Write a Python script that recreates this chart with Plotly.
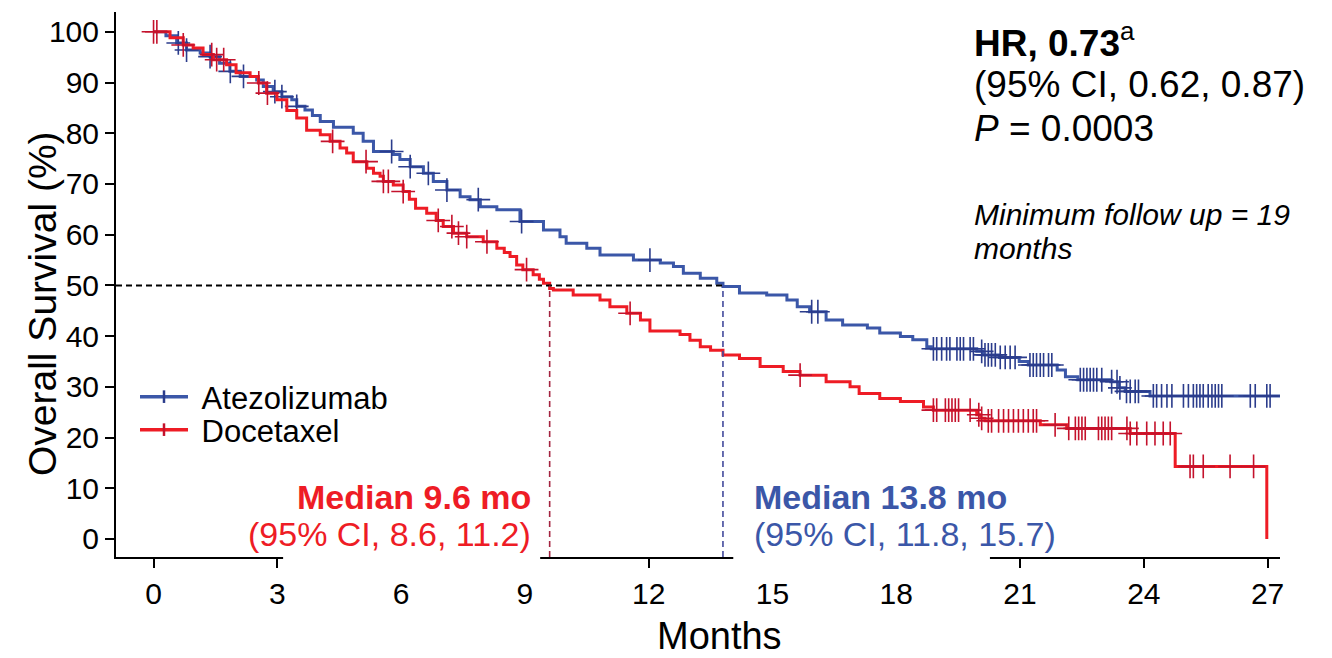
import numpy as np
import plotly.graph_objects as go

# ---------------- data ----------------
ATEZO_T = [0, 0.30, 0.56, 0.80, 1.13, 1.37, 1.60, 1.85, 2.10, 2.50, 2.66, 2.90, 3.11, 3.35,
           3.47, 3.67, 3.85, 4.04, 4.36, 4.84, 5.08, 5.33, 5.81, 5.97, 6.22, 6.54, 6.78,
           7.11, 7.43, 7.67, 7.92, 8.32, 8.88, 9.45, 9.85, 10.00, 10.50, 10.82, 11.63,
           12.28, 12.60, 12.84, 13.25, 13.65, 13.80, 14.20, 14.86, 15.35, 15.60, 15.90,
           16.30, 16.70, 17.30, 17.60, 18.10, 18.40, 18.74, 18.85, 19.95, 20.10, 20.50,
           20.98, 21.20, 21.90, 22.10, 22.40, 23.20, 23.40, 23.55, 24.15, 27.30]
ATEZO_S = [100, 99.2, 97.8, 96.4, 95.8, 95.1, 93.8, 92.2, 91.2, 90.5, 89.2, 88.2, 87.2, 86.6,
           85.3, 84.6, 83.5, 82.3, 81.2, 80.0, 78.4, 76.4, 75.8, 74.8, 73.4, 72.1, 70.5,
           68.8, 67.5, 66.9, 65.5, 64.9, 62.6, 60.9, 59.6, 58.3, 57.3, 56.0, 55.0,
           54.4, 53.7, 52.4, 51.4, 50.4, 49.8, 48.5, 48.1, 47.1, 45.8, 44.8,
           43.2, 42.2, 41.6, 40.6, 39.9, 39.3, 37.9, 37.5, 37.0, 36.3, 35.8,
           35.0, 34.3, 33.3, 32.0, 31.4, 31.0, 29.8, 29.1, 28.2, 28.2]

DOCE_T = [0, 0.40, 0.72, 0.96, 1.20, 1.45, 1.77, 2.00, 2.34, 2.54, 2.74, 2.99, 3.23, 3.47,
          3.71, 4.04, 4.28, 4.52, 4.68, 4.84, 5.17, 5.33, 5.49, 5.57, 5.81, 6.05, 6.20,
          6.35, 6.62, 6.85, 7.02, 7.27, 7.59, 7.99, 8.32, 8.50, 8.64, 8.80, 8.95, 9.20,
          9.35, 9.45, 9.60, 9.69, 10.17, 10.82, 11.06, 11.47, 11.80, 12.03, 12.76, 13.00,
          13.25, 13.50, 13.80, 14.20, 14.70, 15.26, 15.67, 16.30, 16.88, 17.10, 17.60,
          18.10, 18.66, 18.90, 19.95, 20.05, 20.15, 21.49, 22.13, 23.67, 24.76, 26.98]
DOCE_S = [100, 98.8, 97.4, 96.8, 95.5, 94.5, 93.5, 91.9, 91.2, 89.9, 87.9, 86.6, 84.5, 83.0,
          80.6, 79.7, 78.4, 77.1, 76.1, 74.4, 73.1, 72.1, 71.5, 70.5, 69.8, 68.5, 67.0,
          65.2, 64.2, 62.8, 61.6, 60.3, 59.6, 58.6, 57.3, 56.5, 55.7, 54.0, 53.1, 52.1,
          51.2, 50.4, 49.4, 49.1, 48.1, 47.1, 45.8, 44.5, 43.2, 41.0, 40.3, 39.2,
          37.9, 37.2, 36.3, 35.6, 34.0, 33.0, 32.3, 31.0, 30.0, 28.7, 27.7,
          27.1, 26.0, 25.4, 24.5, 23.8, 23.3, 22.5, 21.8, 20.8, 14.3, 0.0]

ATEZO_CENSOR = [0.60, 0.80, 1.37, 1.86, 2.18, 2.94, 3.11, 3.47, 5.77, 6.22, 6.66, 7.11, 7.87,
                8.92, 12.03, 15.95, 16.10,
                18.90, 18.98, 19.10, 19.22, 19.30, 19.47, 19.55, 19.63, 19.79, 19.87,
                20.07, 20.15, 20.23, 20.31, 20.40, 20.52, 20.64, 20.76, 20.88,
                21.24, 21.32, 21.40, 21.49, 21.57, 21.69, 21.77,
                22.46, 22.54, 22.62, 22.70, 22.78, 22.86, 22.98,
                23.22, 23.35, 23.42, 23.58, 23.67, 23.79, 23.87,
                24.23, 24.31, 24.43, 24.56, 24.68, 24.96,
                25.08, 25.20, 25.28, 25.36, 25.44, 25.56, 25.65, 25.73, 25.81, 25.89,
                26.58, 26.70, 26.98, 27.06]
DOCE_CENSOR = [0.00, 0.08, 0.72, 1.41, 1.53, 1.70, 2.55, 2.76, 4.34, 5.15, 5.57, 5.69, 6.05,
               6.90, 7.23, 7.39, 7.59, 8.08, 9.04, 11.55, 15.67,
               18.90, 18.98, 19.19, 19.27, 19.35, 19.43, 19.51, 19.79, 20.00, 20.07,
               20.23, 20.31, 20.48, 20.60, 20.72, 20.84, 20.96, 21.08, 21.20, 21.32, 21.40,
               21.85, 22.18, 22.34, 22.42, 22.50, 22.58, 22.90, 22.98, 23.06, 23.14, 23.22,
               23.59, 23.67, 23.83, 24.07, 24.27, 24.47, 24.64,
               25.12, 25.20, 25.44, 26.09, 26.66]

MEDIAN_ATEZO = 13.8
MEDIAN_DOCE = 9.6
X_TICKS = list(range(0, 28, 3))
Y_TICKS = list(range(0, 101, 10))
X_RANGE = [-0.91, 27.3]
Y_RANGE = [-3.55, 103.9]

BLUE = "#3b57a8"
BLUE_DARK = "#2b3c8c"
RED = "#ee1c25"
RED_DARK = "#c4122c"
FONT = "Arial, Liberation Sans, Helvetica, sans-serif"


def step_value(times, surv, t):
    idx = np.searchsorted(np.asarray(times), np.asarray(t), side="right") - 1
    return np.asarray(surv)[np.clip(idx, 0, len(surv) - 1)]


W, H, L, R, T_, B = 1332, 658, 116, 52, 12, 101


def px(x):
    return (x - L) / (W - L - R)


def py(y):
    return (H - B - y) / (H - T_ - B)


fig = go.Figure()
for name, T, S, C, col, dcol in [
    ("Atezolizumab", ATEZO_T, ATEZO_S, ATEZO_CENSOR, BLUE, BLUE_DARK),
    ("Docetaxel", DOCE_T, DOCE_S, DOCE_CENSOR, RED, RED_DARK),
]:
    fig.add_trace(go.Scatter(x=T, y=S, mode="lines", line=dict(color=col, width=3, shape="hv"),
                             showlegend=False, hoverinfo="skip"))
    fig.add_trace(go.Scatter(x=C, y=step_value(T, S, C), mode="markers",
                             marker=dict(symbol="cross-thin", size=17,
                                         line=dict(color=dcol, width=1.6)),
                             showlegend=False, hoverinfo="skip"))
for name, col, dcol, lg in [("Atezolizumab", BLUE, BLUE_DARK, "legend"),
                            ("Docetaxel", RED, RED_DARK, "legend2")]:
    fig.add_trace(go.Scatter(x=[None], y=[None], mode="lines+markers", name="&nbsp;" + name,
                             legend=lg, line=dict(color=col, width=3.5),
                             marker=dict(symbol="line-ns", size=9,
                                         line=dict(color=dcol, width=2.5))))

# reference lines at the medians
fig.add_shape(type="line", xref="x", yref="y", x0=X_RANGE[0], x1=MEDIAN_ATEZO, y0=50, y1=50,
              line=dict(color="black", width=2, dash="6px,4px"))
fig.add_shape(type="line", xref="x", yref="y", x0=MEDIAN_DOCE, x1=MEDIAN_DOCE, y0=Y_RANGE[0], y1=50,
              line=dict(color="#a3233f", width=1.6, dash="6px,4px"))
fig.add_shape(type="line", xref="x", yref="y", x0=MEDIAN_ATEZO, x1=MEDIAN_ATEZO, y0=Y_RANGE[0], y1=50,
              line=dict(color="#434a9c", width=1.6, dash="6px,4px"))
# gaps in the x axis line behind the median labels
for x0, x1 in [(3.14, 9.37), (14.05, 20.27)]:
    fig.add_shape(type="rect", xref="x", yref="paper", x0=x0, x1=x1, y0=-0.028, y1=0.009,
                  fillcolor="white", line=dict(width=0), layer="above")


def ann(text, x, y, size, color="black", xanchor="left", angle=0):
    fig.add_annotation(text=text, x=px(x), y=py(y), xref="paper", yref="paper",
                       xanchor=xanchor, yanchor="middle", showarrow=False, textangle=angle,
                       font=dict(size=size, color=color, family=FONT))


ann("<b>HR, 0.73</b><sup>a</sup>", 972, 40, 37)
ann("(95% CI, 0.62, 0.87)", 972, 84, 37)
ann("<i>P</i> = 0.0003", 972, 129, 37)
ann("<i>Minimum follow up = 19</i>", 972, 215, 30)
ann("<i>months</i>", 972, 248, 30)
ann(f"<b>Median {MEDIAN_DOCE} mo</b>", 533, 497, 34, RED, "right")
ann("(95% CI, 8.6, 11.2)", 533, 534, 34, RED, "right")
ann(f"<b>Median {MEDIAN_ATEZO} mo</b>", 752, 497, 34, BLUE, "left")
ann("(95% CI, 11.8, 15.7)", 752, 534, 34, BLUE, "left")
# axis titles
ann("Overall Survival (%)", 42, 304, 39, "black", "center", -90)
ann("Months", 719, 636, 38, "black", "center")

axis_common = dict(showgrid=False, zeroline=False, showline=True, linecolor="black", linewidth=2,
                   ticks="outside", ticklen=9, tickwidth=2, tickcolor="black",
                   tickfont=dict(size=30, color="black", family=FONT))
fig.update_xaxes(range=X_RANGE, tickvals=X_TICKS, **axis_common)
fig.update_yaxes(range=Y_RANGE, tickvals=Y_TICKS, **axis_common)
legend_common = dict(xanchor="left", yanchor="middle", bgcolor="rgba(0,0,0,0)",
                     font=dict(size=31, family=FONT, color="black"), itemwidth=48)
fig.update_layout(width=W, height=H, autosize=False,
                  margin=dict(l=L, r=R, t=T_, b=B, pad=0),
                  plot_bgcolor="white", paper_bgcolor="white",
                  font=dict(family=FONT, color="black"),
                  legend=dict(x=px(135), y=py(397), **legend_common),
                  legend2=dict(x=px(135), y=py(430), **legend_common))
fig.write_html("out.html")
